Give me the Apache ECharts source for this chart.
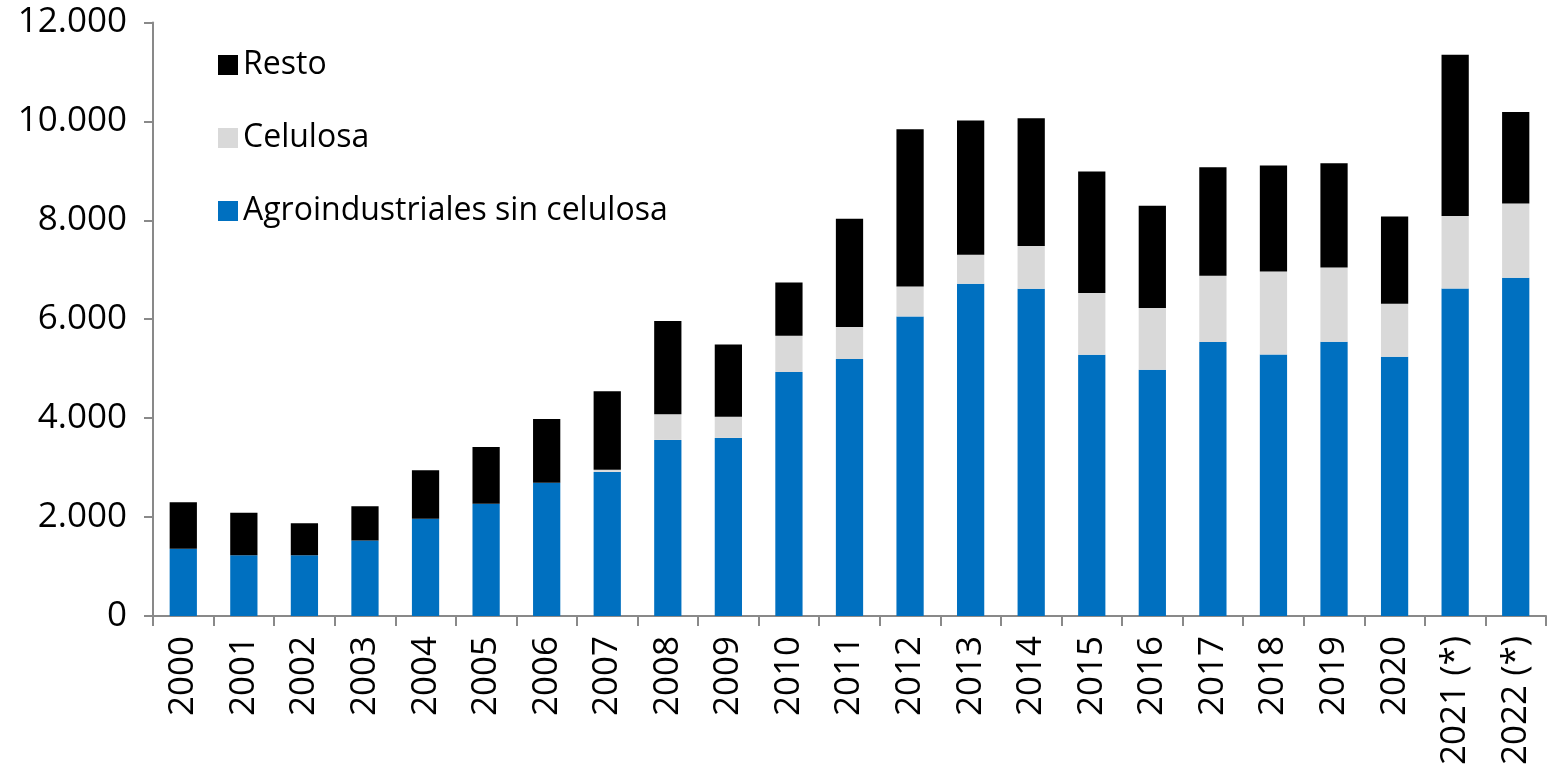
<!DOCTYPE html>
<html>
<head>
<meta charset="utf-8">
<script src="https://cdn.jsdelivr.net/npm/echarts@6/dist/echarts.min.js"></script>
<style>
html,body{margin:0;padding:0;background:#fff;}
#chart{width:1557px;height:768px;}
</style>
</head>
<body>
<div id="chart"></div>
<script>
const categories = ['2000','2001','2002','2003','2004','2005','2006','2007','2008','2009','2010','2011','2012','2013','2014','2015','2016','2017','2018','2019','2020','2021 (*)','2022 (*)'];
const agroindustriales = [1358,1228,1228,1525,1964,2267,2694,2913,3560,3600,4933,5196,6057,6717,6616,5283,4980,5539,5289,5545,5242,6622,6838];
const celulosa = [0,0,0,0,0,0,0,41,517,430,734,646,606,586,863,1246,1246,1340,1677,1501,1071,1463,1501];
const resto = [941,857,647,693,981,1151,1290,1587,1887,1461,1076,2188,3179,2713,2586,2457,2067,2196,2141,2110,1764,3265,1853];
const yTicks = {min:0, max:12000, interval:2000};

const FONT = "'Open Sans',sans-serif";
const chart = echarts.init(document.getElementById('chart'), null, {renderer:'canvas'});
chart.setOption({
  animation:false,
  backgroundColor:'#ffffff',
  textStyle:{fontFamily:FONT},
  grid:{left:153, right:11, top:22.5, bottom:151.5, containLabel:false},
  legend:{
    orient:'vertical', left:213, top:40,
    itemWidth:20, itemHeight:20, itemGap:33,
    icon:'rect',
    data:['Resto','Celulosa','Agroindustriales sin celulosa'],
    textStyle:{fontFamily:FONT, fontSize:32, color:'#000', lineHeight:40, padding:[0,0,0,0]},
    itemStyle:{borderWidth:0}
  },
  xAxis:{
    type:'category', data:categories,
    axisLine:{lineStyle:{color:'#898989', width:2}},
    axisTick:{show:true, length:10, alignWithLabel:false, lineStyle:{color:'#898989', width:2}},
    axisLabel:{rotate:90, fontFamily:FONT, fontSize:35, color:'#000', margin:20, interval:0}
  },
  yAxis:{
    type:'value', min:yTicks.min, max:yTicks.max, interval:yTicks.interval,
    splitLine:{show:false},
    axisLine:{show:true, lineStyle:{color:'#898989', width:2}},
    axisTick:{show:true, length:9, lineStyle:{color:'#898989', width:2}},
    axisLabel:{fontFamily:FONT, fontSize:35, color:'#000', margin:26,
      formatter:v=>v.toString().replace(/\B(?=(\d{3})+(?!\d))/g,'.')}
  },
  series:[
    {name:'Agroindustriales sin celulosa', type:'bar', stack:'t', data:agroindustriales, barWidth:'45%', itemStyle:{color:'#0070C0'}},
    {name:'Celulosa', type:'bar', stack:'t', data:celulosa, barWidth:'45%', itemStyle:{color:'#D9D9D9'}},
    {name:'Resto', type:'bar', stack:'t', data:resto, barWidth:'45%', itemStyle:{color:'#000000'}}
  ]
});
</script>
</body>
</html>
